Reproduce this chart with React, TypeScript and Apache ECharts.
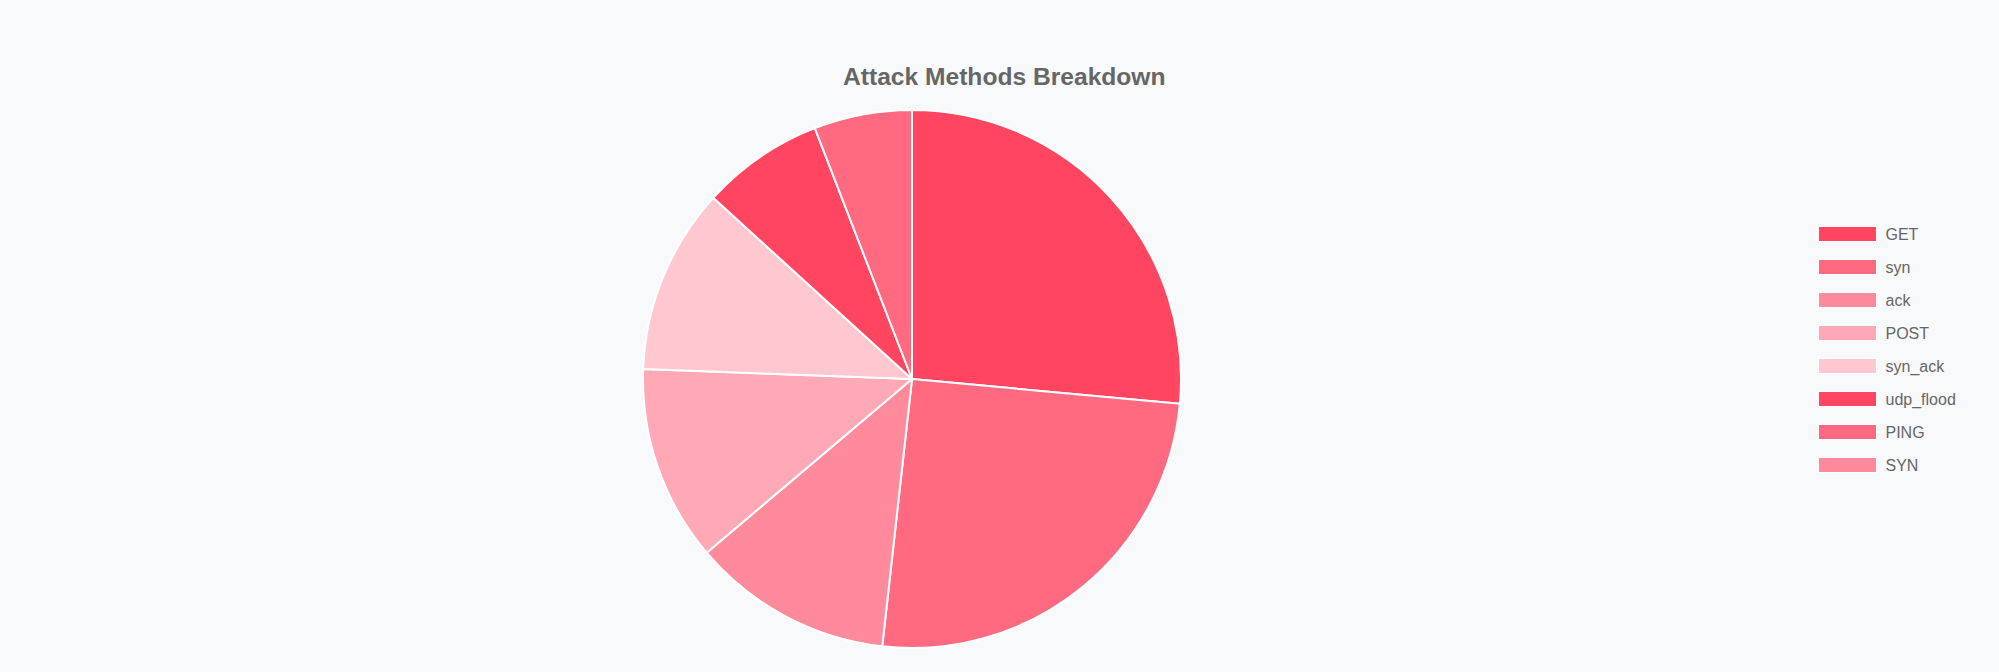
import React, { useEffect, useRef } from "react";
import * as echarts from "echarts";

const categories = ["GET", "syn", "ack", "POST", "syn_ack", "udp_flood", "PING", "SYN"];
const values = [90, 86, 41, 40, 38, 25, 20, 0];
const palette = ["#FF4560", "#FF6A80", "#FF8A9B", "#FFA9B6", "#FFC7D0"];
const titleText = "Attack Methods Breakdown";

export default function App() {
  const ref = useRef<HTMLDivElement>(null);
  useEffect(() => {
    if (!ref.current) return;
    document.body.style.margin = "0";
    document.body.style.background = "#F8F9FA";
    const chart = echarts.init(ref.current, undefined, { renderer: "svg" });
    const data = categories.map((name, i) => ({
      name,
      value: values[i],
      itemStyle: { color: palette[i % palette.length] },
    }));
    chart.setOption({
      animation: false,
      backgroundColor: "#F8F9FA",
      title: {
        text: titleText,
        left: 838,
        top: 59,
        padding: 5,
        textStyle: {
          fontFamily: "Liberation Sans, Arial, sans-serif",
          fontSize: 24.6,
          fontWeight: "bold",
          color: "#666666",
        },
      },
      legend: {
        orient: "vertical",
        left: 1813,
        top: 221,
        padding: 5,
        itemWidth: 58,
        itemHeight: 15,
        itemGap: 17,
        icon: "rect",
        itemStyle: { borderColor: "#ffffff", borderWidth: 1 },
        textStyle: {
          fontFamily: "Liberation Sans, Arial, sans-serif",
          fontSize: 16,
          lineHeight: 16,
          color: "#666666",
          padding: [0, 0, 0, 4],
        },
        data: categories,
      },
      series: [
        {
          type: "pie",
          center: [912, 379],
          radius: [0, 269],
          startAngle: 90,
          clockwise: true,
          label: { show: false },
          labelLine: { show: false },
          emphasis: { disabled: true },
          itemStyle: { borderColor: "#ffffff", borderWidth: 2 },
          data,
        },
      ],
    });
    return () => chart.dispose();
  }, []);
  return (
    <div
      ref={ref}
      style={{ position: "absolute", left: 0, top: 0, width: "1999px", height: "672px" }}
    />
  );
}
